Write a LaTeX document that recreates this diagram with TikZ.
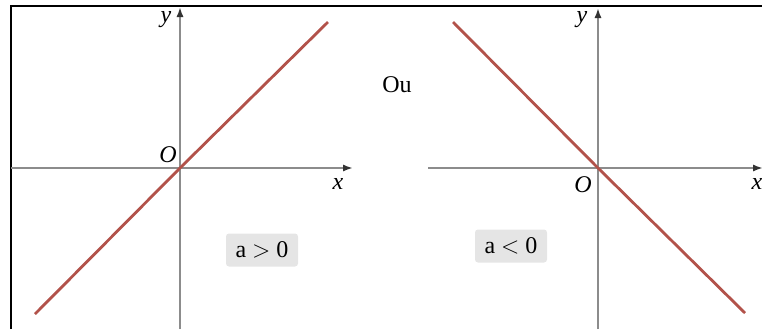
\documentclass[tikz,border=0pt]{standalone}
\usepackage{fontspec}
\setmainfont{Liberation Serif}
\usepackage{tikz}
\usetikzlibrary{arrows.meta,positioning}
\definecolor{lnred}{RGB}{178,82,74}
\definecolor{axgray}{RGB}{140,140,140}
\definecolor{boxgray}{RGB}{229,229,229}

\begin{document}
\begin{tikzpicture}[x=0.5pt,y=-0.5pt,font=\fontsize{12}{14}\selectfont,
    axis/.style={axgray,line width=1.3pt,-{Latex[length=5pt,width=3.6pt,color=black!80]}},
    graph/.style={lnred,line width=1.4pt},
    signbox/.style={fill=boxgray,rounded corners=1.5pt,minimum width=36pt,minimum height=16.5pt,inner sep=2pt}]
    \useasboundingbox (0,0) rectangle (762,329);
    \draw[line width=0.9pt] (11,329) |- (762,6);
    % left: a > 0
    \coordinate (O1) at (180,168);
    \coordinate (xa) at (11,168);  \coordinate (xb) at (353,168);
    \coordinate (ya) at (180,329); \coordinate (yb) at (180,7);
    \draw[axis] (xa) -- (xb);
    \draw[axis] (ya) -- (yb);
    \draw[graph] (35,314) -- (O1) -- (328,22);
    \node (y1) at (166,20) {\textit{y}};
    \node (x1) at (338,184) {\textit{x}};
    \node (o1) at (168,155) {\textit{O}};
    \node[signbox] (pos) at (262,250) {a $>$ 0};
    \node (ou) at (397,85) {Ou};
    % right: a < 0
    \coordinate (O2) at (598,168);
    \coordinate (xc) at (428,168); \coordinate (xd) at (763,168);
    \coordinate (yc) at (598,329); \coordinate (yd) at (598,8);
    \draw[axis] (xc) -- (xd);
    \draw[axis] (yc) -- (yd);
    \draw[graph] (453,22) -- (O2) -- (745,313);
    \node (y2) at (582,20) {\textit{y}};
    \node (x2) at (757,184) {\textit{x}};
    \node (o2) at (583,185) {\textit{O}};
    \node[signbox] (neg) at (511,246) {a $<$ 0};
\end{tikzpicture}
\end{document}
